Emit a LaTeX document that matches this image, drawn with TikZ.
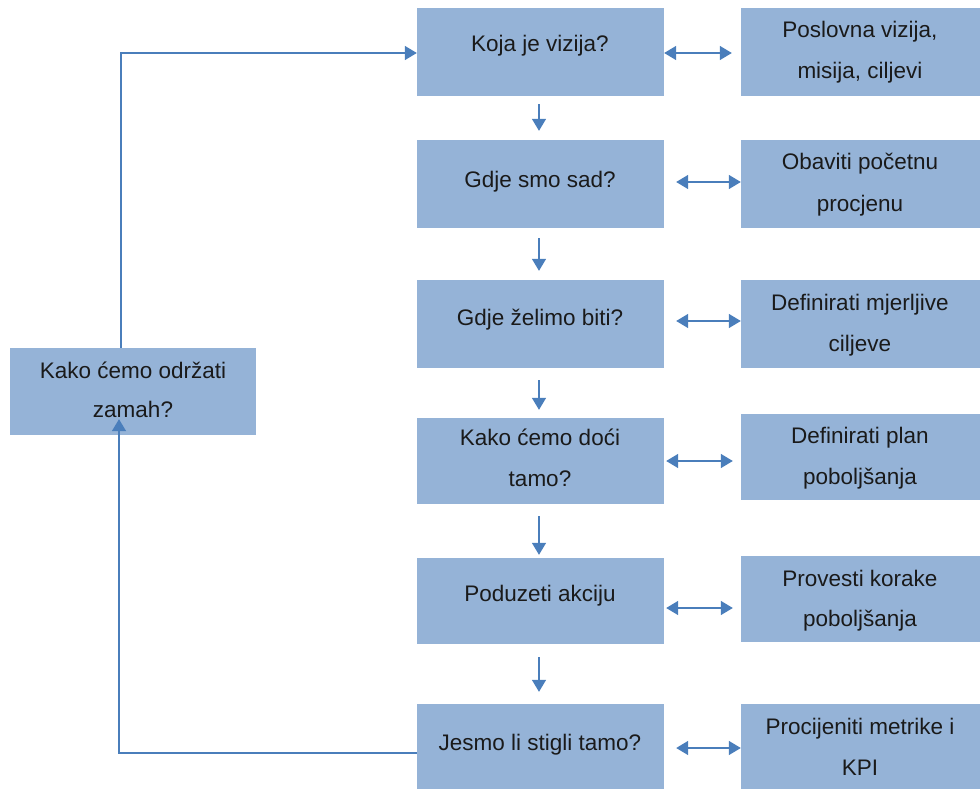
\documentclass[tikz,border=0pt]{standalone}
\usepackage{fontspec}
\setmainfont{Liberation Sans}
\usetikzlibrary{arrows.meta}
\definecolor{boxfill}{HTML}{95B3D7}
\definecolor{arrowc}{HTML}{4A7EBB}
\definecolor{txtc}{HTML}{1A1A1A}
\tikzset{
  box/.style={fill=boxfill, draw=none, inner sep=0pt},
  txt/.style={font=\fontsize{22.5}{41}\selectfont, text=txtc, align=center, inner sep=0pt, anchor=base},
  tip/.tip={Triangle[length=12pt,width=14pt]},
  conn/.style={draw=arrowc, line width=1.6pt, -tip},
  dconn/.style={draw=arrowc, line width=1.6pt, tip-tip}
}
\begin{document}
\begin{tikzpicture}[x=1pt,y=-1pt]
\useasboundingbox (0,0) rectangle (980,789);
% left column boxes
\node[box, minimum width=247pt, minimum height=88pt] (A1) at (540.5,52) {};
\node[box, minimum width=247pt, minimum height=88pt] (A2) at (540.5,184) {};
\node[box, minimum width=247pt, minimum height=88pt] (A3) at (540.5,324) {};
\node[box, minimum width=247pt, minimum height=86pt] (A4) at (540.5,461) {};
\node[box, minimum width=247pt, minimum height=86pt] (A5) at (540.5,601) {};
\node[box, minimum width=247pt, minimum height=85pt] (A6) at (540.5,746.5) {};
% right column boxes
\node[box, minimum width=239pt, minimum height=88pt] (B1) at (860.5,52) {};
\node[box, minimum width=239pt, minimum height=88pt] (B2) at (860.5,184) {};
\node[box, minimum width=239pt, minimum height=88pt] (B3) at (860.5,324) {};
\node[box, minimum width=239pt, minimum height=86pt] (B4) at (860.5,457) {};
\node[box, minimum width=239pt, minimum height=86pt] (B5) at (860.5,599) {};
\node[box, minimum width=239pt, minimum height=85pt] (B6) at (860.5,746.5) {};
% left box
\node[box, minimum width=246pt, minimum height=87pt] (L) at (133,391.5) {};
% texts
\node[txt] (tA1) at (540,52) {Koja je vizija?};
\node[txt] (tA2) at (540,187) {Gdje smo sad?};
\node[txt] (tA3) at (540,325) {Gdje želimo biti?};
\node[txt] (tA4a) at (540,445) {Kako ćemo doći};
\node[txt] (tA4b) at (540,486) {tamo?};
\node[txt] (tA5) at (540,601) {Poduzeti akciju};
\node[txt] (tA6) at (540,750) {Jesmo li stigli tamo?};
\node[txt] (tB1a) at (860,38) {Poslovna vizija,};
\node[txt] (tB1b) at (860,79) {misija, ciljevi};
\node[txt] (tB2a) at (860,170) {Obaviti početnu};
\node[txt] (tB2b) at (860,211) {procjenu};
\node[txt] (tB3a) at (860,310) {Definirati mjerljive};
\node[txt] (tB3b) at (860,351) {ciljeve};
\node[txt] (tB4a) at (860,443) {Definirati plan};
\node[txt] (tB4b) at (860,484) {poboljšanja};
\node[txt] (tB5a) at (860,586) {Provesti korake};
\node[txt] (tB5b) at (860,626) {poboljšanja};
\node[txt] (tB6a) at (860,734) {Procijeniti metrike i};
\node[txt] (tB6b) at (860,775) {KPI};
\node[txt] (tLa) at (133,378) {Kako ćemo održati};
\node[txt] (tLb) at (133,417) {zamah?};
% down arrows
\draw[conn] ([yshift=-8pt]A1.south -| 539,0) -- ([yshift=9pt]A2.north -| 539,0);
\draw[conn] ([yshift=-10pt]A2.south -| 539,0) -- ([yshift=9pt]A3.north -| 539,0);
\draw[conn] ([yshift=-12pt]A3.south -| 539,0) -- ([yshift=8pt]A4.north -| 539,0);
\draw[conn] ([yshift=-12pt]A4.south -| 539,0) -- ([yshift=3pt]A5.north -| 539,0);
\draw[conn] ([yshift=-13pt]A5.south -| 539,0) -- ([yshift=12pt]A6.north -| 539,0);
% double arrows
\draw[dconn] (A1.east |- 0,53) -- ([xshift=-9pt]B1.west |- 0,53);
\draw[dconn] ([xshift=12pt]A2.east |- 0,182) -- (B2.west |- 0,182);
\draw[dconn] ([xshift=12pt]A3.east |- 0,321) -- (B3.west |- 0,321);
\draw[dconn] ([xshift=2pt]A4.east |- 0,461) -- ([xshift=-8pt]B4.west |- 0,461);
\draw[dconn] ([xshift=2pt]A5.east |- 0,608) -- ([xshift=-8pt]B5.west |- 0,608);
\draw[dconn] ([xshift=12pt]A6.east |- 0,748) -- (B6.west |- 0,748);
% loop
\draw[conn] (L.north -| 121,0) -- (121,53) -- (A1.west |- 0,53);
\draw[conn] (A6.west |- 0,753) -- (119,753) -- ([yshift=16pt]L.south -| 119,0);
\end{tikzpicture}
\end{document}
